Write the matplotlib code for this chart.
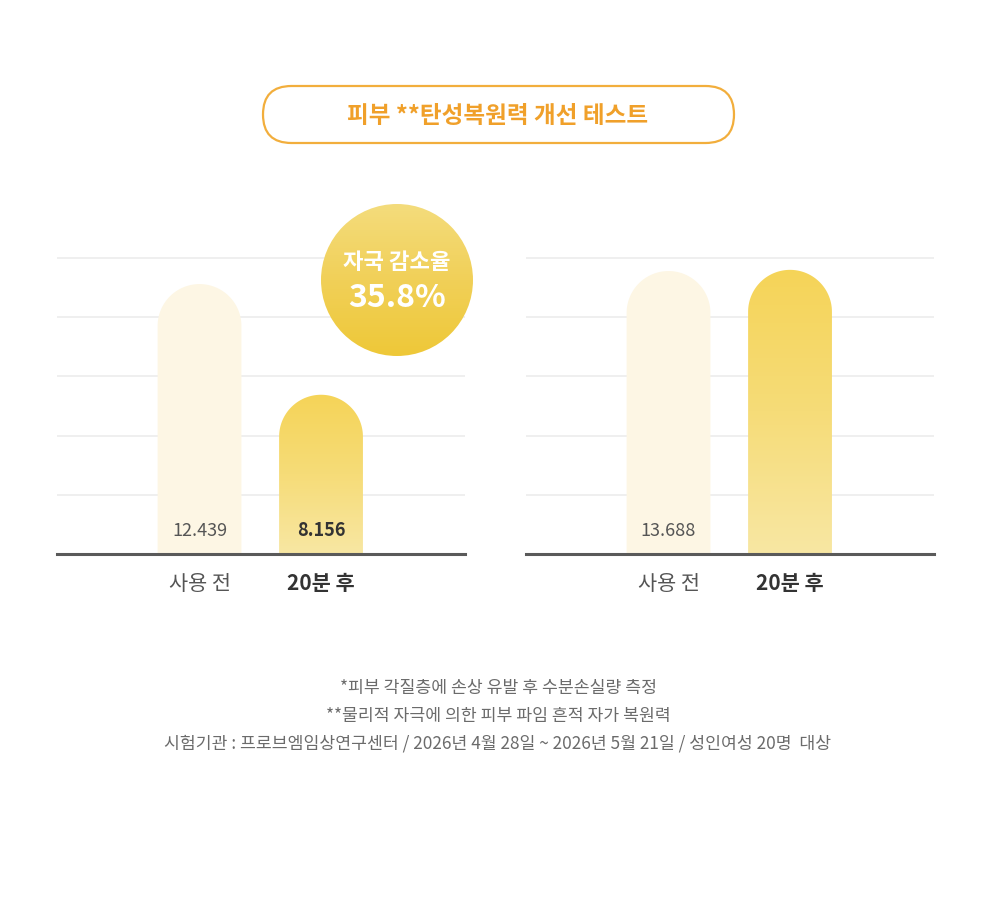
import numpy as np
import matplotlib.pyplot as plt
from matplotlib.colors import LinearSegmentedColormap
from matplotlib.patches import PathPatch, Circle, FancyBboxPatch
from matplotlib.path import Path

plt.rcParams['font.family'] = ['Noto Sans CJK KR', 'DejaVu Sans']

# 데이터
title = "피부 **탄성복원력 개선 테스트"
categories = ["사용 전", "20분 후"]
# bar heights, in gridline units (baseline 0, gridlines 1..5)
left_heights = [4.56, 2.69]
right_heights = [4.78, 4.80]
left_labels = ["12.439", "8.156"]
right_labels = ["13.688", ""]
badge_title = "자국 감소율"
badge_value = "35.8%"
notes = [
    "*피부 각질층에 손상 유발 후 수분손실량 측정",
    "**물리적 자극에 의한 피부 파임 흔적 자가 복원력",
    "시험기관 : 프로브엠임상연구센터 / 2026년 4월 28일 ~ 2026년 5월 21일 / 성인여성 20명  대상",
]

W, H = 999, 903
cream = "#FDF6E4"
gold = LinearSegmentedColormap.from_list("gold", ["#F8E7A3", "#F6DC78", "#F5D458"])
badge_cmap = LinearSegmentedColormap.from_list("badge", ["#EEC838", "#F1D058", "#F4DC7C"])

fig = plt.figure(figsize=(W / 100, H / 100), dpi=100)

# 배경용 픽셀 좌표 축 (제목, 주석)
bg = fig.add_axes([0, 0, 1, 1])
bg.set_xlim(0, W)
bg.set_ylim(H, 0)
bg.axis('off')
pill = FancyBboxPatch((263, 87), 471, 57, boxstyle="round,pad=0,rounding_size=28.5",
                      fc='white', ec='#F2AE3C', lw=1.6)
bg.add_patch(pill)
bg.text(498, 116, title, ha='center', va='center', fontsize=17, fontweight='bold', color='#F0A02A')
for y, note in zip([688, 716, 744], notes):
    bg.text(498, y, note, ha='center', va='center', fontsize=12.4, color='#6B6B6B')

XLIM = (-1.173, 2.185)
YTOP = 5.1
UNIT = 59.2  # px per gridline


def dome(x, w, h, ry):
    theta = np.linspace(0, np.pi, 60)
    xs = x + (w / 2) * np.cos(theta)
    ys = (h - ry) + ry * np.sin(theta)
    verts = [(x + w / 2, 0)] + list(zip(xs, ys)) + [(x - w / 2, 0), (x + w / 2, 0)]
    codes = [Path.MOVETO] + [Path.LINETO] * (len(verts) - 2) + [Path.CLOSEPOLY]
    return Path(verts, codes)


def draw_panel(left_px, heights, labels):
    ax = fig.add_axes([left_px / W, (H - 555) / H, 408 / W, YTOP * UNIT / H])
    ax.patch.set_alpha(0)
    pos = ax.get_position()
    px_x = pos.width * W / (XLIM[1] - XLIM[0])
    px_y = pos.height * H / YTOP
    w = 0.69
    ry = (w / 2 * px_x) / px_y
    grad = np.linspace(0, 1, 256).reshape(-1, 1)
    for i, (h, lab) in enumerate(zip(heights, labels)):
        path = dome(i, w, h, ry)
        if i == 0:
            ax.add_patch(PathPatch(path, fc=cream, ec='none', zorder=1))
        else:
            patch = PathPatch(path, fc='none', ec='none', zorder=1)
            ax.add_patch(patch)
            im = ax.imshow(grad, cmap=gold, extent=[i - w / 2, i + w / 2, 0, h],
                           origin='lower', aspect='auto', zorder=1)
            im.set_clip_path(patch)
        if lab:
            ax.text(i, 24 / UNIT, lab, ha='center', va='center', fontsize=13,
                    color='#555555' if i == 0 else '#333333',
                    fontweight='normal' if i == 0 else 'bold', zorder=3)
    ax.set_xlim(*XLIM)
    ax.set_ylim(0, YTOP)
    ax.set_yticks([1, 2, 3, 4, 5])
    ax.tick_params(axis='y', length=0, labelleft=False)
    ax.yaxis.grid(True, color='#EEEEEE', lw=1.3)
    ax.set_axisbelow(True)
    ax.set_xticks([0, 1], categories)
    ax.tick_params(axis='x', length=0, pad=13, labelsize=15, labelcolor='#555555')
    tl = ax.get_xticklabels()
    tl[1].set_fontweight('bold')
    tl[1].set_color('#333333')
    for s in ['left', 'right', 'top']:
        ax.spines[s].set_visible(False)
    ax.spines['bottom'].set_color('#5A5A5A')
    ax.spines['bottom'].set_linewidth(2.2)
    ax.spines['bottom'].set_zorder(4)
    return ax


ax_l = draw_panel(57, left_heights, left_labels)
ax_r = draw_panel(526, right_heights, right_labels)

# 자국 감소율 배지
ax_b = fig.add_axes([321 / W, (H - 357) / H, 152 / W, 152 / H])
ax_b.set_xlim(-1, 1)
ax_b.set_ylim(-1, 1)
ax_b.axis('off')
circ = Circle((0, 0), 1, fc='none', ec='none')
ax_b.add_patch(circ)
im = ax_b.imshow(np.linspace(0, 1, 256).reshape(-1, 1), cmap=badge_cmap,
                 extent=[-1, 1, -1, 1], origin='lower', aspect='auto')
im.set_clip_path(circ)
ax_b.set_xlim(-1, 1)
ax_b.set_ylim(-1, 1)
ax_b.text(0, 0.24, badge_title, ha='center', va='center', fontsize=16, fontweight='bold', color='white')
ax_b.text(0, -0.23, badge_value, ha='center', va='center', fontsize=23, fontweight='bold', color='white')

plt.savefig('out.png', dpi=100)
plt.close()
